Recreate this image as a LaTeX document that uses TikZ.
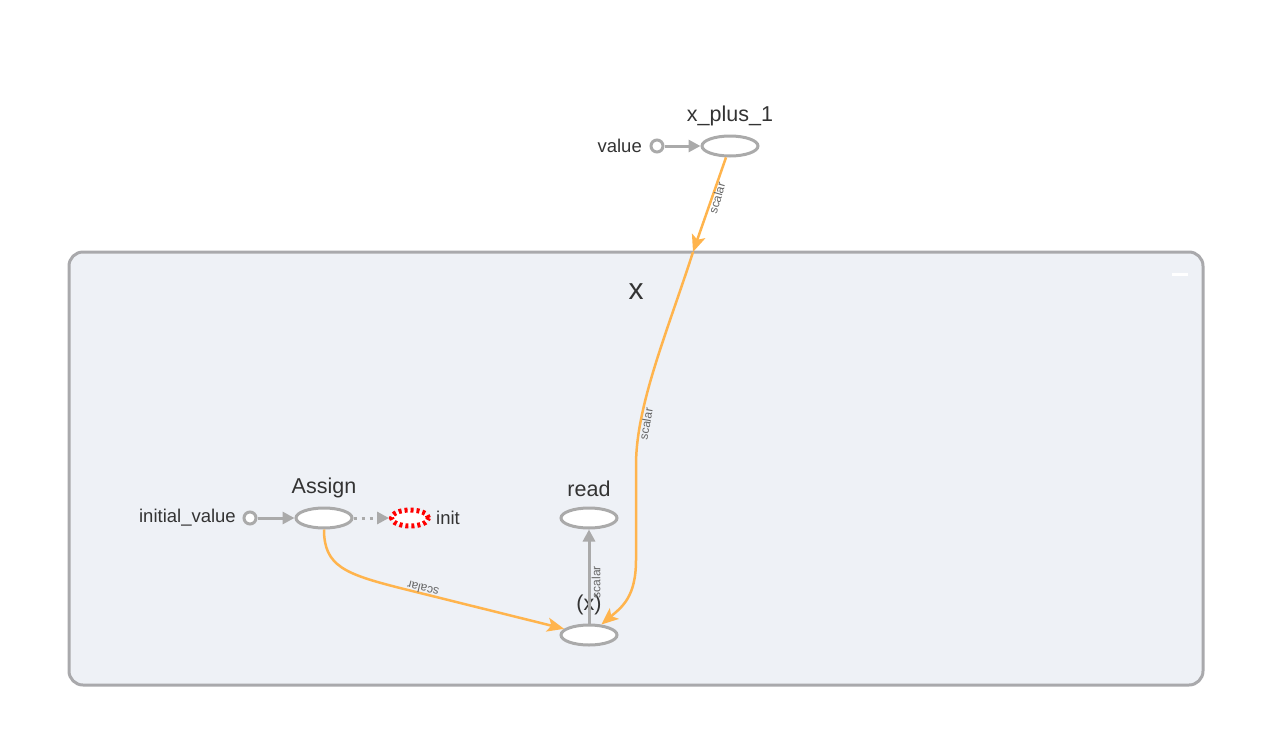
\documentclass[tikz,border=0pt]{standalone}
\usepackage{fontspec}
\setmainfont{Liberation Sans}
\usetikzlibrary{shapes.geometric,arrows.meta}
\definecolor{edgegray}{HTML}{AAAAAA}
\definecolor{clfill}{HTML}{EEF1F6}
\definecolor{clstroke}{HTML}{A9A9AC}
\definecolor{orng}{HTML}{FFB44D}
\definecolor{txt}{HTML}{333333}
\definecolor{lbl}{HTML}{666666}
\tikzset{
  op/.style={ellipse,draw=edgegray,fill=white,line width=3pt,inner sep=0pt,minimum width=56pt,minimum height=20pt},
  const/.style={circle,draw=edgegray,fill=white,line width=3pt,inner sep=0pt,minimum size=12pt},
  initnode/.style={ellipse,draw=red,fill=white,line width=5pt,dash pattern=on 3pt off 3pt,inner sep=0pt,minimum width=37pt,minimum height=16pt},
  title/.style={text=txt,font=\fontsize{21.5}{25}\selectfont,inner sep=0pt},
  small/.style={text=txt,font=\fontsize{18.5}{21}\selectfont,inner sep=0pt},
  elabel/.style={text=lbl,font=\fontsize{12}{14}\selectfont,inner sep=0pt},
  grayedge/.style={draw=edgegray,line width=3pt,-{Triangle[length=12pt,width=12pt]}},
  orangeedge/.style={draw=orng,line width=2.5pt,-{Stealth[length=17pt,width=14pt,inset=4pt]}},
}
\begin{document}
\begin{tikzpicture}[x=1pt,y=-1pt]
\useasboundingbox (0,0) rectangle (1277,753);
% cluster
\draw[draw=clstroke,fill=clfill,line width=3pt,rounded corners=14pt] (69,252) rectangle (1203,685);
\node[text=txt,font=\fontsize{30}{34}\selectfont,inner sep=0pt] (xlabel) at (636,292) {x};
\draw[white,line width=3pt] (1172,274) -- (1188,274);

% top nodes
\node[op] (xp1) at (730,146) {};
\node[title] (xp1t) at (730,116) {x\_plus\_1};
\node[const] (val) at (657,146) {};
\node[small,anchor=east] (valt) at (642,146) {value};
\draw[grayedge] (val) -- (xp1);

% inside nodes
\node[op] (assign) at (324,518) {};
\node[title] (assignt) at (324,488) {Assign};
\node[const] (iv) at (250,518) {};
\node[small,anchor=east] (ivt) at (236,518) {initial\_value};
\draw[grayedge] (iv) -- (assign);
\node[initnode] (init) at (410,518) {};
\node[small,anchor=west] (initt) at (436,518) {init};
\draw[draw=edgegray,line width=3pt,dash pattern=on 3pt off 5pt,-{Triangle[length=12pt,width=12pt]}] (assign) -- (init);

\node[op] (read) at (589,518) {};
\node[title] (readt) at (589,489) {read};
\node[op] (xn) at (589,635) {};
\node[title] (xnt) at (589,605) {(x)};
\draw[grayedge] (xn) -- (read);
\node[elabel,rotate=90] (l3) at (596,582) {scalar};

% orange edges
\coordinate (b) at (693,252);
\draw[orangeedge] (xp1) -- (b);
\node[elabel,rotate=74] (l1) at (717,198) {scalar};
\draw[orangeedge] (b) .. controls (668,330) and (636,405) .. (636,465) -- (636,560) .. controls (636,597) and (622,607) .. (xn);
\node[elabel,rotate=80] (l2) at (646,424) {scalar};
\draw[orangeedge] (assign) .. controls (324,566) and (345,574) .. (400,588) -- (xn);
\node[elabel,rotate=166] (l4) at (423,589) {scalar};
\end{tikzpicture}
\end{document}
